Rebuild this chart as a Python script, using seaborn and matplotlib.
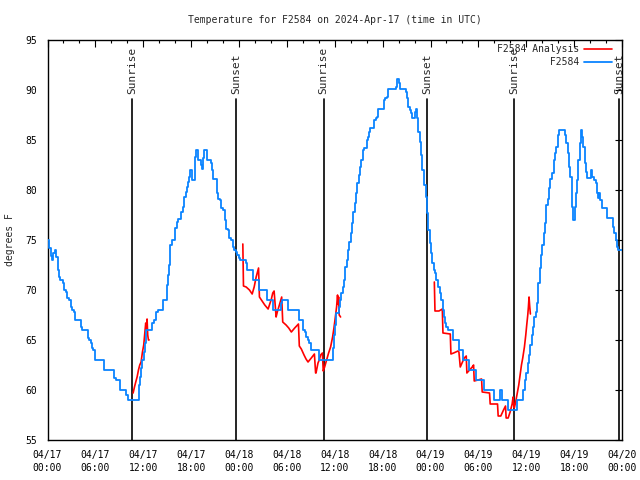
import numpy as np
import pandas as pd
import matplotlib
matplotlib.use("Agg")
import matplotlib.pyplot as plt
from matplotlib.ticker import MultipleLocator
import seaborn as sns

# ---------------- data (hours since 2024-04-17 00:00 UTC, degrees F) ----------------
# observed temperature, (hour, temp) change points of the step trace
obs_points = [
    (0.0, 75.0), (0.25, 74.2), (0.45, 73.4), (0.6, 73.0), (0.75, 73.7), (0.9, 74.0), (1.1, 73.3),
    (1.3, 72.0), (1.45, 71.3), (1.6, 71.0), (1.9, 70.7), (2.05, 70.0), (2.3, 69.8), (2.45, 69.2),
    (2.7, 69.0), (2.9, 68.3), (3.1, 68.0), (3.3, 67.8), (3.5, 67.0), (4.2, 66.3), (4.35, 66.0),
    (5.05, 65.2), (5.2, 65.0), (5.4, 64.7), (5.55, 64.2), (5.75, 64.0), (6.0, 63.0), (7.05, 62.0),
    (8.3, 61.2), (8.6, 61.0), (9.05, 60.0), (9.9, 59.5), (10.1, 59.0), (11.45, 60.5), (11.6, 61.3),
    (11.75, 62.2), (11.9, 63.0), (12.05, 63.8), (12.25, 64.7), (12.4, 66.0), (13.15, 66.7),
    (13.4, 67.0), (13.6, 67.8), (13.8, 68.0), (14.5, 69.0), (14.95, 70.5), (15.1, 71.5),
    (15.25, 72.5), (15.4, 74.5), (15.6, 75.0), (16.0, 76.2), (16.2, 76.8), (16.4, 77.1),
    (16.75, 77.8), (16.95, 78.3), (17.1, 79.3), (17.3, 79.8), (17.45, 80.3), (17.6, 80.8),
    (17.75, 81.3), (17.85, 82.0), (18.05, 81.0), (18.5, 83.3), (18.65, 84.0), (18.8, 83.0),
    (19.2, 82.5), (19.35, 82.1), (19.48, 83.2), (19.6, 84.0), (20.05, 83.0), (20.5, 82.7),
    (20.65, 82.0), (20.75, 81.1), (21.2, 79.7), (21.4, 79.1), (21.65, 79.0), (21.8, 78.2),
    (22.0, 78.0), (22.2, 77.0), (22.4, 76.1), (22.65, 76.0), (22.8, 75.2), (23.0, 75.0),
    (23.2, 74.3), (23.4, 74.0), (23.65, 73.8), (23.8, 73.5), (24.0, 73.2), (24.15, 73.0),
    (24.9, 72.7), (25.06, 72.0), (25.7, 71.0), (26.56, 70.0), (27.56, 69.0), (28.23, 68.0),
    (29.23, 68.7), (29.4, 69.0), (30.15, 68.0), (31.48, 67.0), (32.06, 66.0), (32.23, 65.8),
    (32.4, 65.3), (32.65, 65.0), (32.8, 64.7), (33.06, 64.0), (34.06, 63.0), (35.75, 64.2),
    (35.85, 65.5), (36.0, 66.5), (36.2, 67.7), (36.5, 68.3), (36.65, 69.0), (36.8, 69.7),
    (36.98, 70.3), (37.15, 71.0), (37.3, 72.3), (37.48, 73.0), (37.65, 74.0), (37.81, 74.8),
    (37.98, 75.7), (38.15, 76.7), (38.3, 77.8), (38.48, 78.7), (38.65, 79.7), (38.8, 80.7),
    (38.98, 81.5), (39.15, 82.3), (39.31, 83.0), (39.48, 84.0), (39.65, 84.2), (39.98, 85.0),
    (40.15, 85.3), (40.3, 85.8), (40.48, 86.2), (40.9, 87.0), (41.15, 87.2), (41.3, 87.3),
    (41.48, 88.1), (42.15, 89.0), (42.3, 89.2), (42.56, 89.3), (42.73, 90.1), (43.65, 90.3),
    (43.8, 91.1), (44.06, 90.7), (44.23, 90.1), (44.9, 89.8), (45.06, 89.2), (45.23, 88.3),
    (45.4, 88.0), (45.56, 87.7), (45.73, 87.2), (46.06, 87.8), (46.23, 88.1), (46.3, 87.2),
    (46.48, 85.8), (46.65, 84.8), (46.81, 83.5), (46.98, 82.0), (47.15, 80.5), (47.4, 79.3),
    (47.56, 77.7), (47.73, 76.0), (47.9, 74.7), (48.06, 73.7), (48.23, 72.7), (48.4, 72.0),
    (48.56, 71.7), (48.73, 71.0), (48.9, 70.3), (49.15, 69.7), (49.31, 69.0), (49.56, 68.0),
    (49.7, 67.3), (49.85, 66.7), (50.0, 66.3), (50.2, 66.0), (50.8, 65.0), (51.6, 64.0),
    (52.06, 63.0), (52.8, 62.0), (53.7, 61.0), (54.75, 60.0), (55.9, 59.0), (56.7, 60.0),
    (56.9, 59.0), (57.75, 58.0), (58.8, 59.0), (59.6, 60.0), (59.8, 61.0), (60.0, 61.7),
    (60.2, 62.7), (60.35, 63.5), (60.5, 64.5), (60.7, 65.5), (60.85, 66.3), (61.0, 67.3),
    (61.2, 67.8), (61.35, 68.7), (61.5, 70.7), (61.7, 72.2), (61.85, 73.5), (62.0, 74.5),
    (62.2, 75.7), (62.35, 76.7), (62.5, 78.5), (62.7, 79.1), (62.85, 80.2), (63.0, 81.1),
    (63.25, 81.7), (63.45, 83.0), (63.6, 83.7), (63.75, 84.3), (63.95, 85.5), (64.1, 86.0),
    (64.85, 85.5), (65.0, 84.7), (65.2, 83.7), (65.35, 82.3), (65.5, 81.3), (65.7, 78.3),
    (65.8, 77.0), (66.05, 78.3), (66.2, 79.7), (66.35, 81.0), (66.5, 83.0), (66.7, 84.7),
    (66.85, 86.0), (67.0, 85.3), (67.15, 84.3), (67.35, 82.7), (67.5, 81.8), (67.65, 81.2),
    (68.1, 82.0), (68.3, 81.3), (68.5, 81.0), (68.7, 80.7), (68.85, 79.7), (69.0, 79.2),
    (69.1, 79.7), (69.25, 79.0), (69.45, 78.2), (70.1, 77.2), (70.85, 76.3), (71.0, 75.7),
    (71.2, 75.0), (71.35, 74.3), (71.5, 74.0), (72.0, 74.0),
]

# analysis trace, three separate runs
ana_run1 = [
    (10.73, 59.7), (10.9, 60.3), (11.06, 60.8), (11.23, 61.3), (11.4, 62.0), (11.56, 62.5),
    (11.73, 62.8), (11.9, 63.8), (12.06, 64.5), (12.23, 66.0), (12.31, 66.7), (12.4, 66.0),
    (12.48, 67.1), (12.56, 65.5), (12.65, 65.0), (12.73, 65.0),
]
ana_run2 = [
    (24.48, 74.6), (24.56, 70.4), (24.9, 70.3), (25.31, 70.0), (25.65, 69.6), (25.9, 70.3),
    (26.15, 71.3), (26.45, 72.2), (26.56, 69.3), (26.81, 69.0), (27.23, 68.5), (27.65, 68.1),
    (28.06, 69.1), (28.23, 69.7), (28.4, 69.9), (28.65, 67.3), (28.8, 67.8), (29.06, 68.5),
    (29.35, 69.3), (29.48, 66.8), (29.9, 66.5), (30.23, 66.2), (30.56, 65.8), (30.98, 66.2),
    (31.45, 66.6), (31.56, 64.4), (31.81, 64.1), (32.15, 63.5), (32.4, 63.1), (32.65, 62.8),
    (33.06, 63.2), (33.45, 63.6), (33.6, 61.7), (33.65, 61.7), (33.9, 62.7), (34.06, 63.0),
    (34.23, 63.5), (34.45, 63.7), (34.56, 61.9), (34.73, 62.3), (34.98, 63.0), (35.23, 63.7),
    (35.48, 64.3), (35.73, 65.3), (35.9, 66.2), (36.06, 67.2), (36.23, 68.3), (36.35, 69.5),
    (36.42, 68.6), (36.48, 69.3), (36.56, 67.5), (36.65, 67.4), (36.73, 67.3),
]
ana_run3 = [
    (48.48, 70.8), (48.56, 67.9), (49.06, 67.9), (49.48, 68.1), (49.56, 65.7), (50.48, 65.6),
    (50.56, 63.6), (50.9, 63.7), (51.45, 63.9), (51.56, 63.8), (51.73, 62.3), (52.23, 63.2),
    (52.48, 63.4), (52.56, 61.7), (53.23, 62.3), (53.4, 62.5), (53.48, 60.9), (54.4, 61.1),
    (54.48, 59.8), (55.4, 59.7), (55.48, 58.6), (56.4, 58.6), (56.48, 57.4), (56.81, 57.4),
    (57.15, 58.0), (57.4, 58.4), (57.48, 57.2), (57.73, 57.2), (57.98, 57.8), (58.23, 58.6),
    (58.35, 59.3), (58.44, 58.4), (58.5, 58.2), (58.65, 58.7), (58.9, 59.8), (59.06, 60.5),
    (59.23, 61.5), (59.4, 62.5), (59.56, 63.2), (59.77, 64.3), (59.94, 65.5), (60.06, 66.5),
    (60.19, 67.5), (60.27, 68.3), (60.35, 69.3), (60.44, 68.3), (60.52, 67.6),
]

sunrise_hours = [10.56, 34.6, 58.5]
sunset_hours = [23.6, 47.6, 71.65]

xtick_hours = [0, 6, 12, 18, 24, 30, 36, 42, 48, 54, 60, 66, 72]
xtick_labels = ["04/17\n00:00", "04/17\n06:00", "04/17\n12:00", "04/17\n18:00",
                "04/18\n00:00", "04/18\n06:00", "04/18\n12:00", "04/18\n18:00",
                "04/19\n00:00", "04/19\n06:00", "04/19\n12:00", "04/19\n18:00",
                "04/20\n00:00"]
ytick_values = [55, 60, 65, 70, 75, 80, 85, 90, 95]

title = "Temperature for F2584 on 2024-Apr-17 (time in UTC)"
ylabel = "degrees F"
label_analysis = "F2584 Analysis"
label_obs = "F2584"

# ---------------- tables ----------------
obs_df = pd.DataFrame(obs_points, columns=["hour", "temp"])
ana_frames = []
for i, run in enumerate([ana_run1, ana_run2, ana_run3]):
    d = pd.DataFrame(run, columns=["hour", "temp"])
    d["seg"] = i
    ana_frames.append(d)
ana_df = pd.concat(ana_frames, ignore_index=True)

# ---------------- plotting ----------------
sns.set_style("white")
plt.rcParams["font.family"] = ["DejaVu Sans Mono", "DejaVu Sans"]
plt.rcParams["font.size"] = 7

fig = plt.figure(figsize=(6.4, 4.8), dpi=100)
ax = fig.add_axes([47.5 / 640, 40 / 480, 574.5 / 640, 400 / 480])

sns.lineplot(data=ana_df, x="hour", y="temp", units="seg", estimator=None, sort=False,
             color="#ff0000", lw=1.2, ax=ax, zorder=3)
red_handle = ax.get_lines()[0]
sns.lineplot(data=obs_df, x="hour", y="temp", estimator=None, sort=False,
             drawstyle="steps-post", color="#0a84ff", lw=1.3, ax=ax, zorder=4)
blue_handle = ax.get_lines()[-1]

line_top = 89.1
for h in sunrise_hours:
    ax.plot([h, h], [55, line_top], color="black", lw=1.2, zorder=2)
    ax.text(h, line_top + 0.55, "Sunrise", rotation=90, ha="center", va="bottom", fontsize=8)
for h in sunset_hours:
    ax.plot([h, h], [55, line_top], color="black", lw=1.2, zorder=2)
    ax.text(h, line_top + 0.55, "Sunset", rotation=90, ha="center", va="bottom", fontsize=8,
            clip_on=False)

ax.set_xlim(0, 72)
ax.set_ylim(55, 95)
ax.set_xticks(xtick_hours)
ax.set_xticklabels(xtick_labels)
ax.xaxis.set_minor_locator(MultipleLocator(2))
ax.set_yticks(ytick_values)
ax.set_yticklabels([str(v) for v in ytick_values])
ax.tick_params(which="both", direction="in", top=True, right=True, width=0.8, colors="black",
               labelsize=7)
ax.tick_params(which="major", length=5)
ax.tick_params(which="minor", length=2.5)
ax.tick_params(axis="x", which="major", pad=7)
ax.tick_params(axis="y", which="major", pad=7.5)
for lbl in ax.get_xticklabels():
    lbl.set_linespacing(1.35)
for sp in ax.spines.values():
    sp.set_color("black")
    sp.set_linewidth(1.0)

ax.set_xlabel("")
ax.set_ylabel(ylabel, fontsize=7)
ax.yaxis.set_label_coords(-0.057, 0.5)
ax.set_title(title, fontsize=7, pad=12)

# legend: text right-aligned (monospace padding) with the sample to its right
n = max(len(label_analysis), len(label_obs))
labels = [label_analysis.rjust(n), label_obs.rjust(n)]
ax.legend([red_handle, blue_handle], labels, loc="upper right", bbox_to_anchor=(0.983, 0.99),
          frameon=False, markerfirst=False, handlelength=2.9, handletextpad=0.5,
          labelspacing=0.35, borderpad=0, borderaxespad=0, fontsize=7)

fig.savefig("out.png", dpi=100)
